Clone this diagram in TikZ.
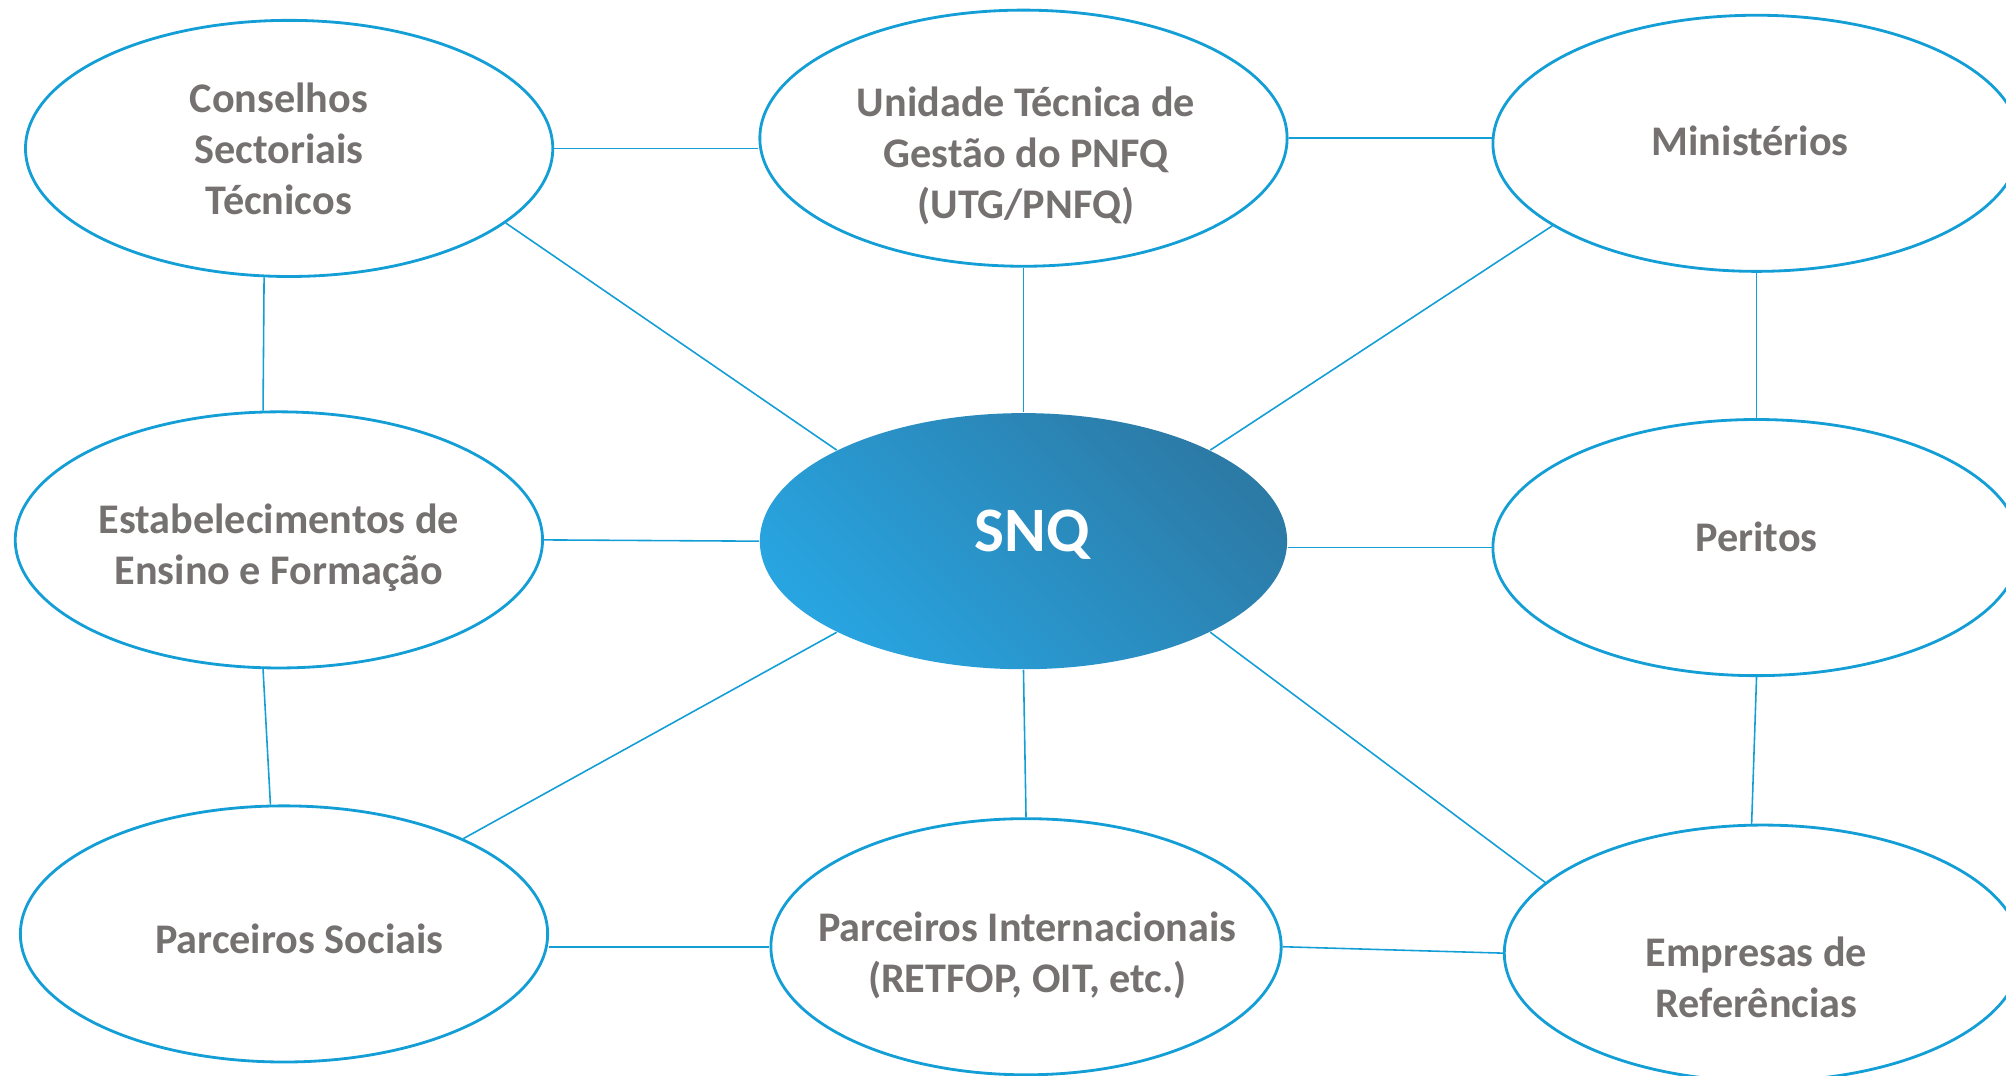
\documentclass[tikz,border=0pt]{standalone}
\usepackage{fontspec}
\setmainfont{Carlito}
\usetikzlibrary{shapes.geometric}
\definecolor{rim}{RGB}{20,158,214}
\definecolor{txtgrey}{RGB}{118,113,113}
\definecolor{snqlight}{RGB}{40,164,224}
\definecolor{snqmid}{RGB}{48,150,204}
\definecolor{snqdark}{RGB}{44,122,166}

\begin{document}
\begin{tikzpicture}[x=0.012793cm,y=-0.012793cm,
  blob/.style={ellipse,draw=rim,line width=0.8pt,fill=white,inner sep=0pt,
    minimum width=5.27cm,minimum height=2.56cm},
  txt/.style={text=txtgrey,font=\fontsize{12}{14.5}\selectfont\bfseries,align=center},
  link/.style={draw=rim,line width=0.45pt}]
\useasboundingbox (0,0) rectangle (1568,841);
\clip (0,0) rectangle (1568,841);

% the ellipses
\node[blob] (cons) at (226,116) {};
\node[blob] (unid) at (800,108) {};
\node[blob] (mini) at (1373,112) {};
\node[blob] (estab) at (218,422) {};
\node[ellipse,inner sep=0pt,minimum width=5.27cm,minimum height=2.56cm,
  top color=snqdark,middle color=snqmid,bottom color=snqlight,shading angle=-45]
  (snq) at (800,423) {};
\node[blob] (per) at (1373,428) {};
\node[blob] (psoc) at (222,730) {};
\node[blob,minimum width=5.1cm] (int) at (802,740) {};
\node[blob,minimum width=5.17cm] (emp) at (1378,745) {};

% texts
\node[txt] (cons-t) at (218,116) {Conselhos\\Sectoriais\\Técnicos};
\node[txt] (unid-t) at (802,122) {Unidade Técnica de\\Gestão do PNFQ\\(UTG/PNFQ)};
\node[txt] (mini-t) at (1368,110) {Ministérios};
\node[txt] (estab-t) at (218,428) {Estabelecimentos de\\Ensino e Formação};
\node[text=white,font=\fontsize{18}{22}\selectfont\bfseries] (snq-t) at (807,418) {SNQ};
\node[txt] (per-t) at (1373,420) {Peritos};
\node[txt] (psoc-t) at (234,734) {Parceiros Sociais};
\node[txt] (int-t) at (803,747) {Parceiros Internacionais\\(RETFOP, OIT, etc.)};
\node[txt] (emp-t) at (1373,764) {Empresas de\\Referências};

% connectors
\draw[link] (cons.east) -- (cons.east -| unid.west);
\draw[link] (unid.east) -- (unid.east -| mini.west);
\draw[link] (cons.-101) -- (estab.97);
\draw[link] (cons.-19) -- (snq.154);
\draw[link] (unid.south) -- (snq.north);
\draw[link] (mini.202) -- (snq.26);
\draw[link] (mini.south) -- (per.north);
\draw[link] (estab.east) -- (snq.west);
\draw[link] (per.west) -- (per.west -| snq.east);
\draw[link] (estab.-97) -- (psoc.96);
\draw[link] (snq.206) -- (psoc.28);
\draw[link] (snq.south) -- (int.north);
\draw[link] (snq.-26) -- (emp.162);
\draw[link] (per.south) -- (emp.95);
\draw[link] (int.west) -- (int.west -| psoc.east);
\draw[link] (int.east) -- (emp.west);

\end{tikzpicture}
\end{document}
